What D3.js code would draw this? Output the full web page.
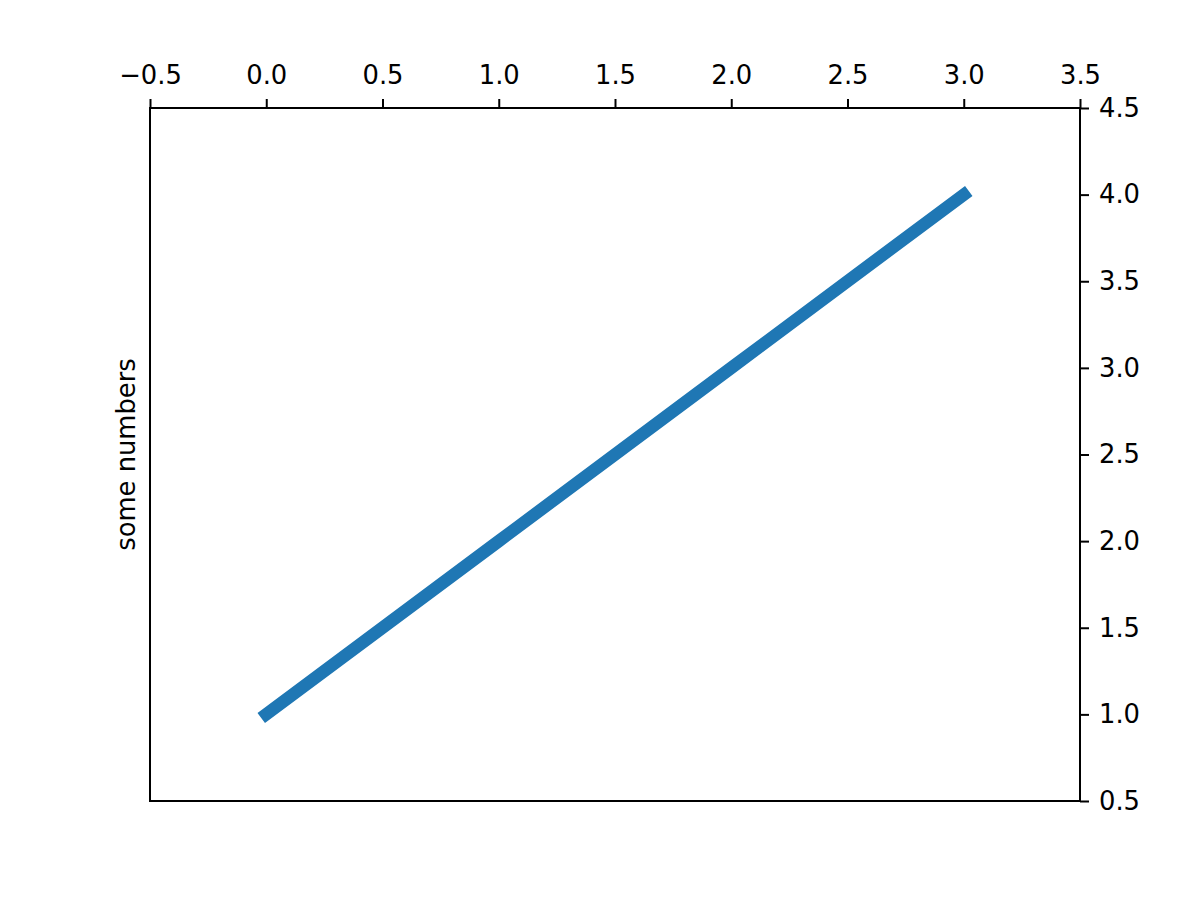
<!DOCTYPE html>
<html>
<head>
<meta charset="utf-8">
<script src="https://cdn.jsdelivr.net/npm/d3@7"></script>
<style>
  body { margin: 0; background: #fff; }
  text { font-family: "DejaVu Sans", sans-serif; fill: #000; }
</style>
</head>
<body>
<script>
// Data
const xValues = [0, 1, 2, 3];
const yValues = [1, 2, 3, 4];
const xTicks = [-0.5, 0, 0.5, 1, 1.5, 2, 2.5, 3, 3.5];
const yTicks = [0.5, 1, 1.5, 2, 2.5, 3, 3.5, 4, 4.5];
const yLabel = "some numbers";

// Figure layout (matplotlib-like)
const W = 1200, H = 900;
const margin = { top: 108, right: 120, bottom: 99, left: 150 };
const width = W - margin.left - margin.right;
const height = H - margin.top - margin.bottom;
const fontSize = 25.8;

const svg = d3.select("body").append("svg")
  .attr("width", W)
  .attr("height", H);

const g = svg.append("g")
  .attr("transform", "translate(" + margin.left + "," + margin.top + ")");

const x = d3.scaleLinear().domain([-0.5, 3.5]).range([0, width]);
const y = d3.scaleLinear().domain([0.5, 4.5]).range([height, 0]);

const fmt = d => (d < 0 ? "\u2212" : "") + Math.abs(d).toFixed(1);

// Line (matplotlib default projecting cap)
const data = xValues.map((d, i) => ({ x: d, y: yValues[i] }));
g.append("path")
  .datum(data)
  .attr("fill", "none")
  .attr("stroke", "#1f77b4")
  .attr("stroke-width", 12.5)
  .attr("stroke-linecap", "square")
  .attr("d", d3.line().x(d => x(d.x)).y(d => y(d.y)));

// Frame
g.append("rect")
  .attr("width", width)
  .attr("height", height)
  .attr("fill", "none")
  .attr("stroke", "#000")
  .attr("stroke-width", 2);

// Top x axis
const xAxis = g.append("g")
  .call(d3.axisTop(x).tickValues(xTicks).tickFormat(fmt).tickSizeOuter(0).tickSize(9).tickPadding(15));

// Right y axis
const yAxis = g.append("g")
  .attr("transform", "translate(" + width + ",0)")
  .call(d3.axisRight(y).tickValues(yTicks).tickFormat(fmt).tickSizeOuter(0).tickSize(9).tickPadding(10));

[xAxis, yAxis].forEach(a => {
  a.select(".domain").remove();
  a.selectAll(".tick line").attr("stroke", "#000").attr("stroke-width", 2);
  a.selectAll(".tick text")
    .style("font-family", "DejaVu Sans, sans-serif")
    .style("font-size", fontSize + "px")
    .attr("fill", "#000");
});

// Y label on the left
g.append("text")
  .attr("transform", "translate(-15," + (height / 2) + ") rotate(-90)")
  .attr("text-anchor", "middle")
  .style("font-size", fontSize + "px")
  .text(yLabel);
</script>
</body>
</html>
